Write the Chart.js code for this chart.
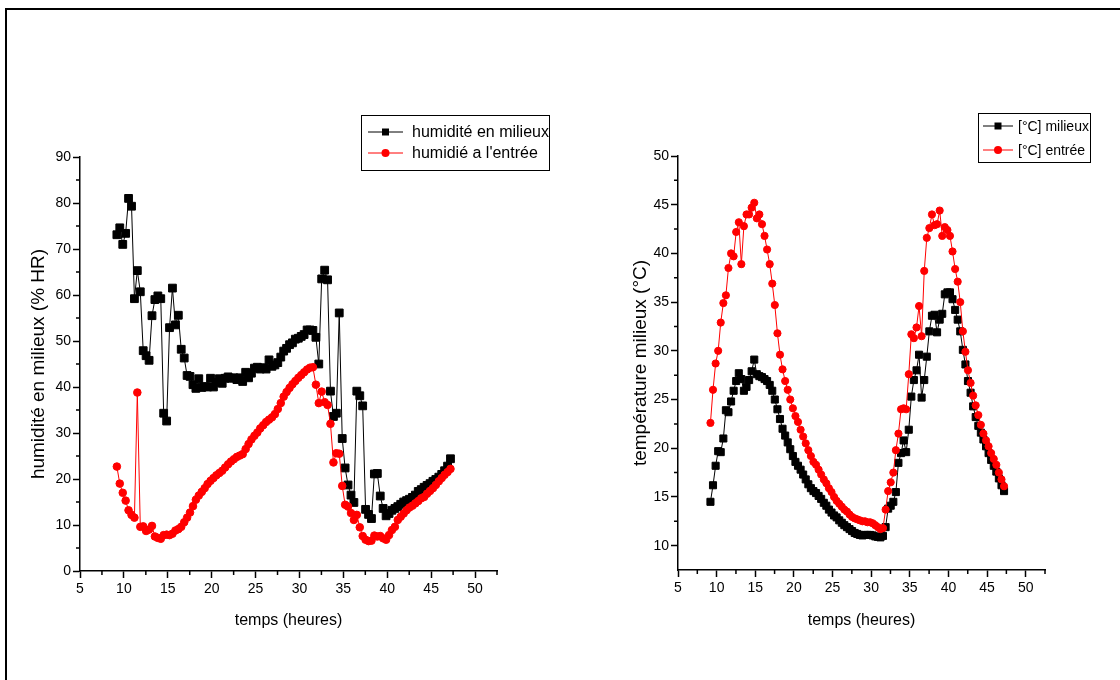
<!DOCTYPE html>
<html>
<head>
<meta charset="utf-8">
<script src="https://cdn.jsdelivr.net/npm/chart.js@4.4.1/dist/chart.umd.min.js"></script>
<style>
  html, body { margin: 0; padding: 0; background: #fff; }
  #page { position: relative; width: 1120px; height: 680px; overflow: hidden; background: #fff; }
  #cadre { position: absolute; left: 5px; top: 8px; width: 1200px; height: 800px;
           border-left: 2px solid #000; border-top: 2px solid #000; }
  canvas { position: absolute; top: 0; }
  #gauche { left: 0; }
  #droite { left: 560px; }
</style>
</head>
<body>
<div id="page">
  <div id="cadre"></div>
  <canvas id="gauche" width="560" height="680"></canvas>
  <canvas id="droite" width="560" height="680"></canvas>
</div>
<script>
// --- données (relevés toutes les ~20 min) ---
const temps = [9.2, 9.53, 9.87, 10.2, 10.53, 10.87, 11.2, 11.53, 11.87, 12.2,
  12.53, 12.87, 13.2, 13.53, 13.87, 14.2, 14.53, 14.87, 15.2, 15.53,
  15.87, 16.2, 16.53, 16.87, 17.2, 17.53, 17.87, 18.2, 18.53, 18.87,
  19.2, 19.53, 19.87, 20.2, 20.53, 20.87, 21.2, 21.53, 21.87, 22.2,
  22.53, 22.87, 23.2, 23.53, 23.87, 24.2, 24.53, 24.87, 25.2, 25.53,
  25.87, 26.2, 26.53, 26.87, 27.2, 27.53, 27.87, 28.2, 28.53, 28.87,
  29.2, 29.53, 29.87, 30.2, 30.53, 30.87, 31.2, 31.53, 31.87, 32.2,
  32.53, 32.87, 33.2, 33.53, 33.87, 34.2, 34.53, 34.87, 35.2, 35.53,
  35.87, 36.2, 36.53, 36.87, 37.2, 37.53, 37.87, 38.2, 38.53, 38.87,
  39.2, 39.53, 39.87, 40.2, 40.53, 40.87, 41.2, 41.53, 41.87, 42.2,
  42.53, 42.87, 43.2, 43.53, 43.87, 44.2, 44.53, 44.87, 45.2, 45.53,
  45.87, 46.2, 46.53, 46.87, 47.2];

const humMilieu = [73.1, 74.6, 71.0, 73.4, 81.0, 79.3, 59.2, 65.3, 60.7, 47.9,
  46.8, 45.8, 55.5, 59.0, 59.8, 59.2, 34.3, 32.6, 52.9, 61.5,
  53.5, 55.6, 48.2, 46.3, 42.5, 42.3, 40.5, 39.7, 41.8, 39.9,
  40.1, 40.0, 41.9, 40.0, 41.0, 41.8, 40.8, 41.9, 42.2, 41.9,
  42.0, 41.6, 42.0, 41.2, 43.2, 42.0, 43.0, 44.1, 44.3, 43.9,
  44.2, 43.9, 45.9, 44.5, 44.8, 45.3, 46.5, 47.8, 48.4, 49.2,
  49.6, 50.4, 50.6, 51.0, 51.4, 52.4, 52.4, 52.3, 50.8, 45.0,
  63.5, 65.4, 63.3, 39.1, 33.6, 34.3, 56.1, 28.8, 22.4, 18.7,
  16.5, 14.9, 39.1, 38.1, 35.9, 13.4, 12.3, 11.4, 21.1, 21.2,
  16.3, 13.6, 12.0, 12.5, 13.2, 13.6, 14.0, 14.5, 15.0, 15.3,
  15.6, 16.0, 16.5, 17.3, 17.7, 18.2, 18.6, 19.0, 19.5, 19.9,
  20.4, 21.0, 21.8, 22.8, 24.4];

const humEntree = [22.7, 19.0, 17.0, 15.3, 13.2, 12.2, 11.6, 38.8, 9.6, 9.7,
  8.7, 9.0, 9.8, 7.5, 7.2, 7.0, 7.8, 7.9, 7.8, 8.1,
  8.8, 9.1, 9.6, 10.6, 11.6, 12.7, 14.1, 15.5, 16.4, 17.2,
  18.0, 18.9, 19.6, 20.2, 20.8, 21.3, 21.8, 22.5, 23.2, 23.8,
  24.3, 24.8, 25.1, 25.4, 26.5, 27.6, 28.6, 29.4, 30.1, 31.0,
  31.7, 32.4, 32.9, 33.4, 34.1, 35.2, 36.5, 37.9, 38.9, 39.8,
  40.6, 41.3, 42.0, 42.6, 43.2, 43.8, 44.2, 44.3, 40.5, 36.5,
  39.0, 36.7, 36.1, 32.0, 23.6, 25.6, 25.5, 18.5, 14.4, 14.0,
  12.6, 11.1, 12.2, 9.5, 7.6, 6.8, 6.5, 6.6, 7.7, 7.5,
  7.6, 7.1, 6.8, 7.8, 8.9, 9.6, 11.1, 11.8, 12.5, 13.2,
  13.8, 14.2, 14.7, 15.2, 15.8, 16.1, 16.8, 17.4, 18.0, 18.7,
  19.5, 20.2, 20.9, 21.5, 22.2];

const tempMilieu = [14.5, 16.2, 18.2, 19.7, 19.6, 21.0, 23.9, 23.7, 24.8, 25.9,
  26.9, 27.7, 27.1, 25.9, 26.3, 27.0, 27.9, 29.1, 27.6, 27.4,
  27.3, 27.1, 26.9, 26.5, 25.9, 25.0, 24.0, 23.0, 22.0, 21.3,
  20.6, 19.9, 19.2, 18.6, 18.2, 17.8, 17.3, 16.8, 16.3, 15.9,
  15.6, 15.4, 15.1, 14.8, 14.4, 14.1, 13.7, 13.4, 13.1, 12.9,
  12.6, 12.35, 12.1, 11.9, 11.7, 11.5, 11.3, 11.2, 11.1, 11.05,
  11.1, 11.1, 11.1, 11.05, 10.95, 10.9, 10.85, 11.0, 11.9, 13.8,
  14.1, 14.5, 15.5, 18.5, 19.5, 20.8, 19.6, 21.9, 25.3, 27.0,
  28.0, 29.6, 25.2, 27.0, 29.4, 32.0, 33.6, 33.7, 31.9, 33.2,
  33.8, 35.8, 36.0, 36.0, 35.3, 34.2, 33.2, 32.0, 30.1, 28.6,
  26.9, 25.7, 24.3, 23.2, 22.3, 21.6, 20.9, 20.2, 19.5, 18.8,
  18.2, 17.6, 16.9, 16.2, 15.6];

const tempEntree = [22.6, 26.0, 28.7, 30.0, 32.9, 34.9, 35.7, 38.5, 40.0, 39.7,
  42.2, 43.2, 38.9, 42.8, 44.0, 44.0, 44.7, 45.2, 43.6, 44.0,
  43.0, 41.8, 40.4, 38.9, 36.9, 34.7, 31.8, 29.6, 28.1, 26.9,
  26.0, 25.0, 24.1, 23.3, 22.7, 21.9, 21.2, 20.5, 19.8, 19.2,
  18.6, 18.3, 17.8, 17.3, 16.8, 16.4, 15.9, 15.5, 15.0, 14.6,
  14.3, 14.0, 13.7, 13.5, 13.2, 12.95, 12.8, 12.7, 12.6, 12.5,
  12.5, 12.4, 12.4, 12.3, 12.1, 11.9, 11.7, 11.8, 13.7, 15.6,
  16.5, 17.5, 19.8, 21.5, 24.0, 24.1, 24.0, 27.6, 31.7, 31.3,
  32.4, 34.6, 31.5, 38.2, 41.6, 42.6, 44.0, 42.9, 43.0, 44.4,
  41.8, 42.7, 42.4, 41.8, 40.2, 38.4, 37.1, 35.0, 32.0, 29.9,
  28.0, 26.7, 25.4, 24.4, 23.4, 22.4, 21.5, 20.8, 20.2, 19.5,
  18.9, 18.3, 17.5, 16.8, 16.1];

// graduations
const xTicks = [5, 10, 15, 20, 25, 30, 35, 40, 45, 50];
const xMinor = [7.5, 12.5, 17.5, 22.5, 27.5, 32.5, 37.5, 42.5, 47.5, 52.5];
const humTicks = [0, 10, 20, 30, 40, 50, 60, 70, 80, 90];
const humMinor = [5, 15, 25, 35, 45, 55, 65, 75, 85];
const tempTicks = [10, 15, 20, 25, 30, 35, 40, 45, 50];
const tempMinor = [12.5, 17.5, 22.5, 27.5, 32.5, 37.5, 42.5, 47.5];

Chart.defaults.font.family = "'Liberation Sans', Arial, sans-serif";
Chart.defaults.color = '#000';

// petites graduations (Origin met des ticks mineurs entre les majeurs)
const petitsTraits = {
  id: 'petitsTraits',
  afterDraw(chart, args, opts) {
    const ctx = chart.ctx;
    const sx = chart.scales.x, sy = chart.scales.y;
    ctx.save();
    ctx.strokeStyle = '#000';
    ctx.lineWidth = 1.5;
    ctx.beginPath();
    opts.x.forEach(v => {
      const px = sx.getPixelForValue(v);
      ctx.moveTo(px, sx.top);
      ctx.lineTo(px, sx.top + 4);
    });
    opts.y.forEach(v => {
      const py = sy.getPixelForValue(v);
      ctx.moveTo(sy.right, py);
      ctx.lineTo(sy.right - 4, py);
    });
    ctx.stroke();
    ctx.restore();
  }
};

// légende encadrée façon Origin
const legendeCadre = {
  id: 'legendeCadre',
  afterDraw(chart, args, o) {
    const ctx = chart.ctx;
    ctx.save();
    ctx.strokeStyle = '#000';
    ctx.lineWidth = 1;
    ctx.strokeRect(o.x + 0.5, o.y + 0.5, o.w, o.h);
    chart.data.datasets.forEach((ds, i) => {
      const y = o.rows[i];
      ctx.strokeStyle = ds.borderColor;
      ctx.fillStyle = ds.borderColor;
      ctx.lineWidth = 1;
      ctx.beginPath();
      ctx.moveTo(o.x0, y);
      ctx.lineTo(o.x1, y);
      ctx.stroke();
      const mx = (o.x0 + o.x1) / 2;
      ctx.beginPath();
      if (ds.pointStyle === 'rect') {
        ctx.rect(mx - 3.5, y - 3.5, 7, 7);
      } else {
        ctx.arc(mx, y, 4, 0, Math.PI * 2);
      }
      ctx.fill();
      ctx.fillStyle = '#000';
      ctx.font = o.font;
      ctx.textBaseline = 'middle';
      ctx.fillText(ds.label, o.tx, y + 1);
    });
    ctx.restore();
  }
};

function serie(label, valeurs, couleur, style, rayon, ordre) {
  return {
    label: label,
    data: temps.map((t, i) => ({ x: t, y: valeurs[i] })),
    borderColor: couleur,
    backgroundColor: couleur,
    borderWidth: 1,
    pointStyle: style,
    pointRadius: rayon,
    pointHoverRadius: rayon,
    pointBorderWidth: 1,
    pointBackgroundColor: couleur,
    pointBorderColor: couleur,
    tension: 0,
    order: ordre
  };
}

function graphique(id, c) {
  return new Chart(document.getElementById(id), {
    type: 'line',
    data: { datasets: c.datasets },
    options: {
      responsive: false,
      animation: false,
      events: [],
      layout: { padding: { left: 0, top: c.haut, right: c.droite, bottom: 0 } },
      scales: {
        x: {
          type: 'linear', min: 5, max: 52.5,
          afterBuildTicks: s => { s.ticks = xTicks.map(v => ({ value: v })); },
          afterFit: s => { s.height = c.hautX; },
          grid: { drawOnChartArea: false, drawTicks: true, tickLength: 7, tickColor: '#000', tickWidth: 1.5 },
          border: { display: true, color: '#000', width: 1.5 },
          ticks: { color: '#000', font: { size: 14 }, padding: 3, maxRotation: 0, autoSkip: false },
          title: { display: true, text: 'temps (heures)', color: '#000', font: { size: 16 },
                   padding: { top: 0, bottom: 50 } }
        },
        y: {
          type: 'linear', min: c.ymin, max: c.ymax,
          afterBuildTicks: s => { s.ticks = c.yTicks.map(v => ({ value: v })); },
          afterFit: s => { s.width = c.largY; },
          grid: { drawOnChartArea: false, drawTicks: true, tickLength: 7, tickColor: '#000', tickWidth: 1.5 },
          border: { display: true, color: '#000', width: 1.5 },
          ticks: { color: '#000', font: { size: 14 }, padding: 2, autoSkip: false },
          title: { display: true, text: c.titreY, color: '#000', font: { size: 19 },
                   padding: { top: c.posTitreY, bottom: 0 } }
        }
      },
      plugins: {
        legend: { display: false },
        tooltip: { enabled: false },
        petitsTraits: { x: xMinor, y: c.yMinor },
        legendeCadre: c.legende
      }
    },
    plugins: [petitsTraits, legendeCadre]
  });
}

graphique('gauche', {
  datasets: [
    serie('humidité en milieux', humMilieu, '#000000', 'rect', 5.5, 1),
    serie("humidié a l'entrée", humEntree, '#ff0000', 'circle', 3.8, 0)
  ],
  haut: 157, droite: 63, hautX: 109, largY: 80,
  ymin: 0, ymax: 90, yTicks: humTicks, yMinor: humMinor,
  titreY: 'humidité en milieux (% HR)', posTitreY: 27,
  legende: { x: 361, y: 115, w: 188, h: 55, rows: [132, 153], x0: 368, x1: 403, tx: 412,
             font: "16px 'Liberation Sans', Arial, sans-serif" }
});

graphique('droite', {
  datasets: [
    serie('[°C] milieux', tempMilieu, '#000000', 'rect', 5, 1),
    serie('[°C] entrée', tempEntree, '#ff0000', 'circle', 3.6, 0)
  ],
  haut: 156, droite: 75, hautX: 110, largY: 118,
  ymin: 7.5, ymax: 50, yTicks: tempTicks, yMinor: tempMinor,
  titreY: 'température milieux (°C)', posTitreY: 69,
  legende: { x: 418, y: 113, w: 112, h: 49, rows: [126, 150], x0: 423, x1: 453, tx: 458,
             font: "14px 'Liberation Sans', Arial, sans-serif" }
});
</script>
</body>
</html>
